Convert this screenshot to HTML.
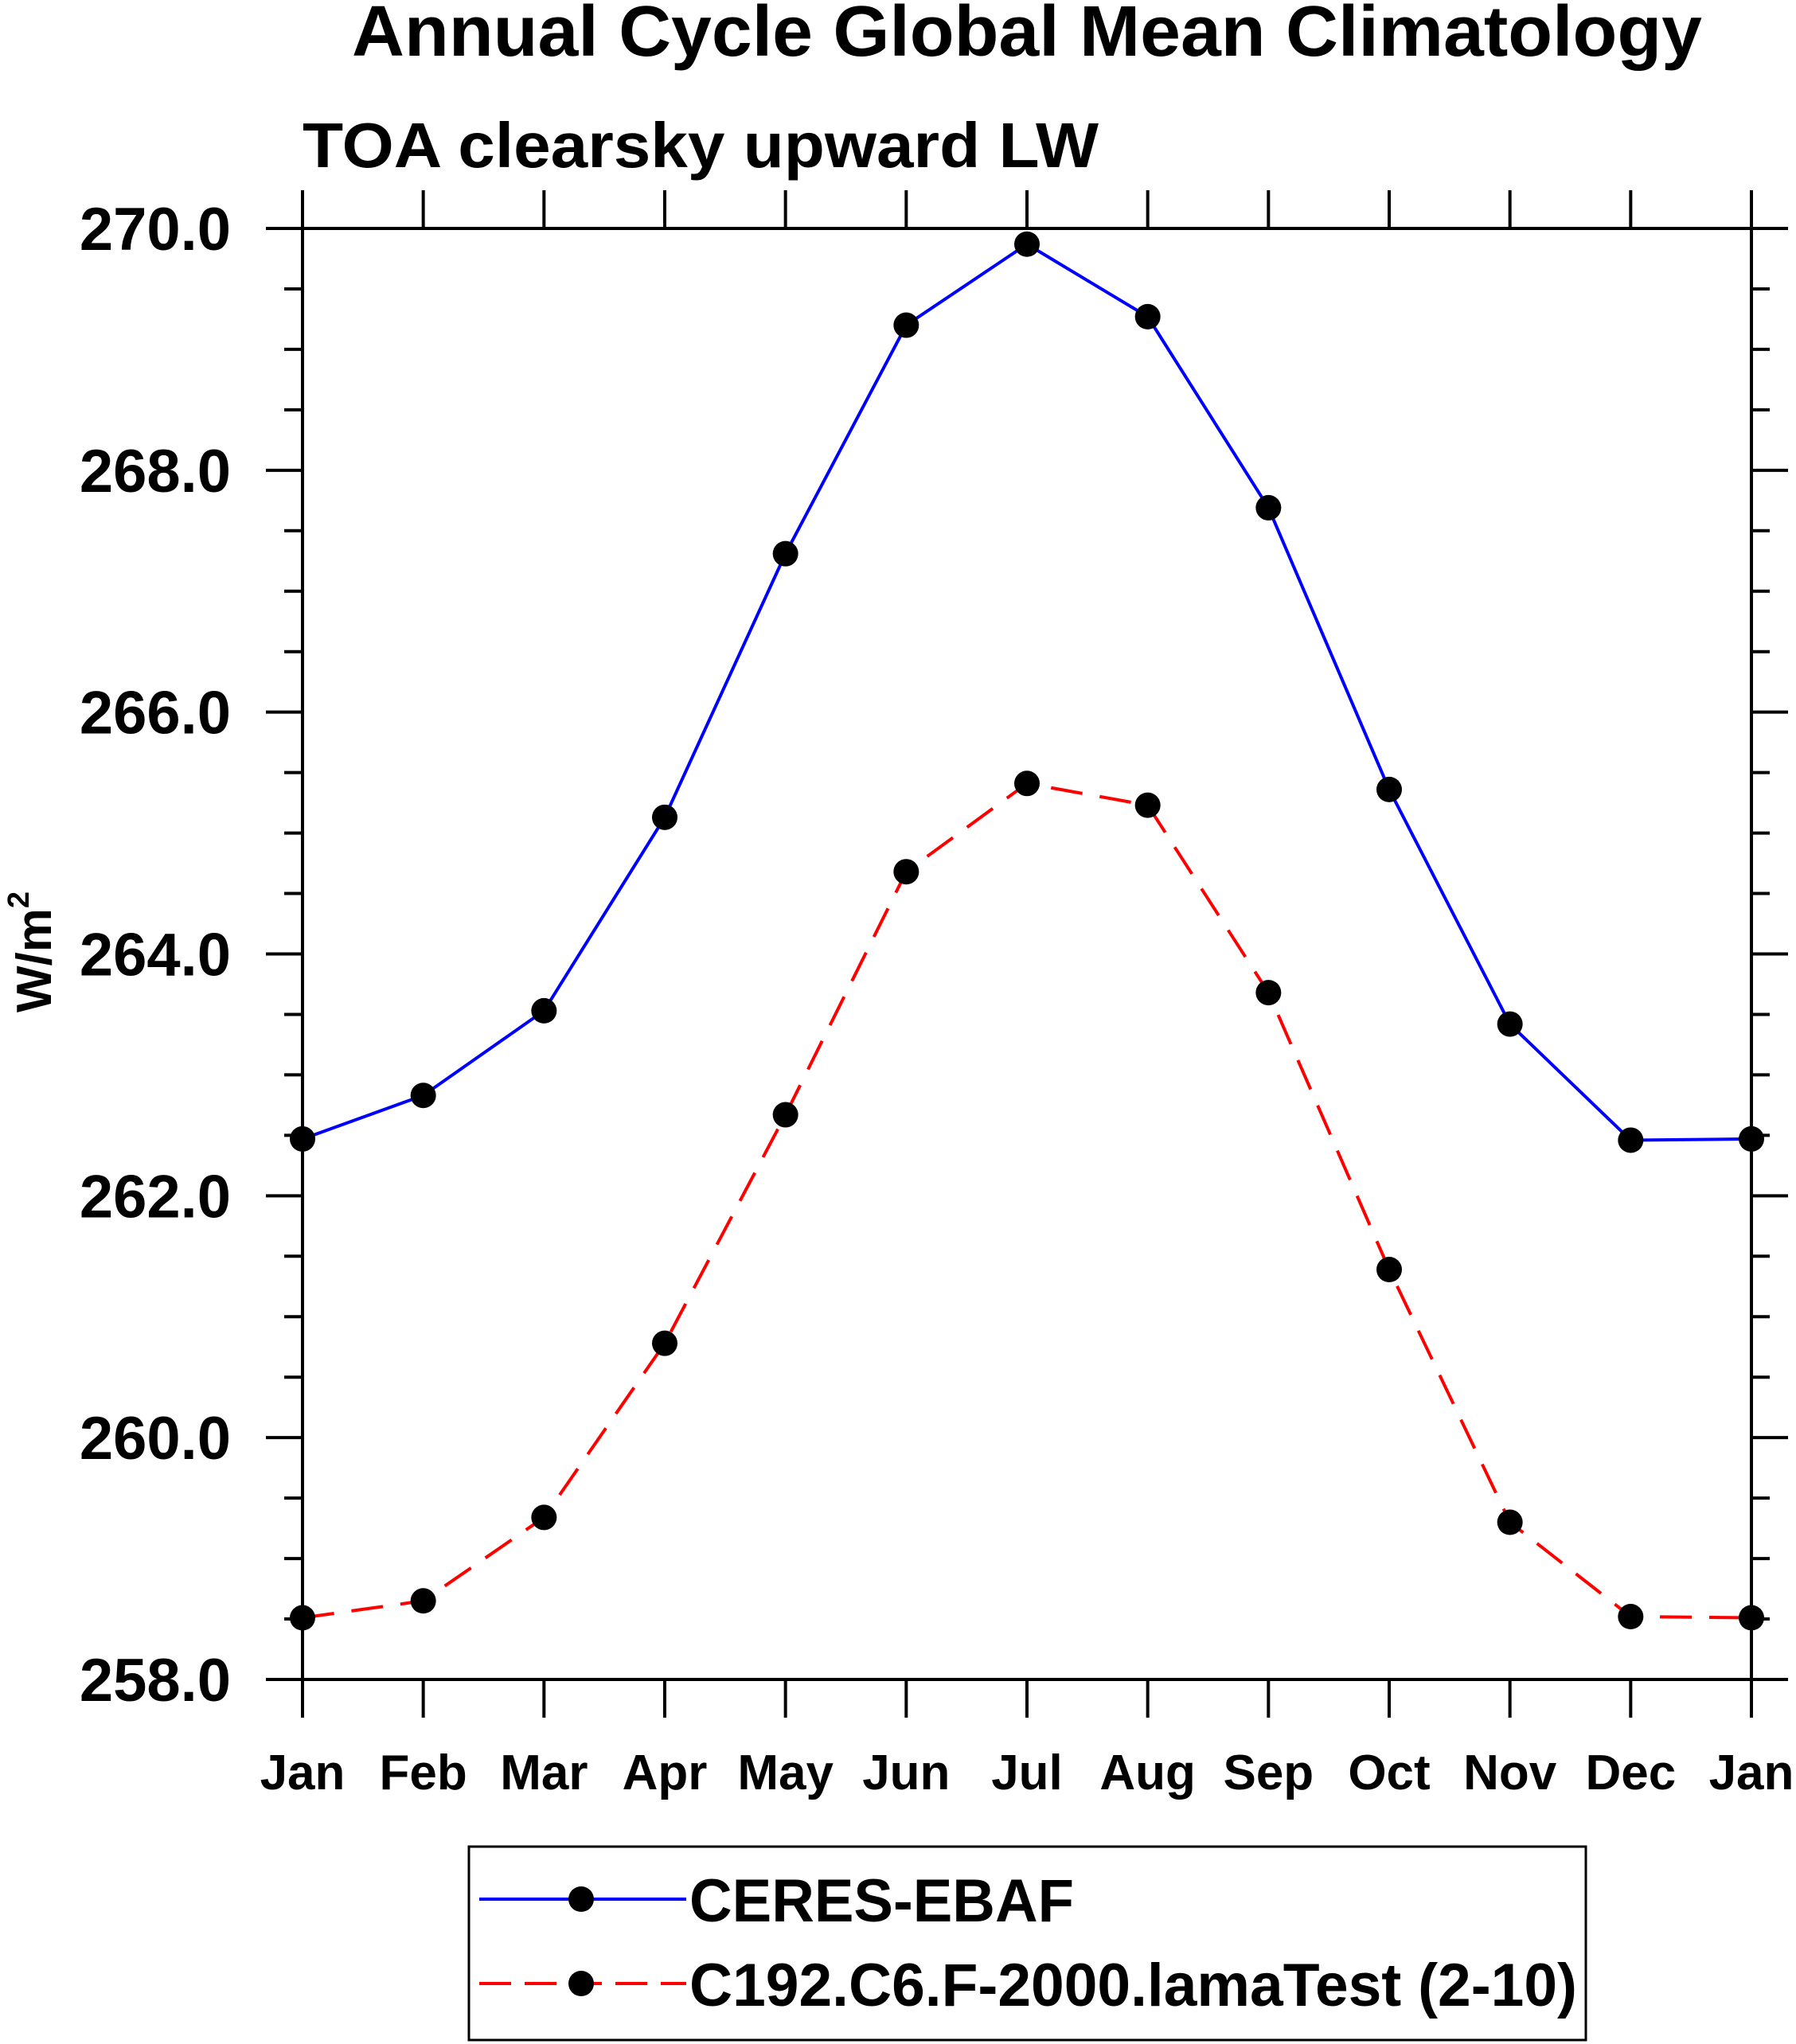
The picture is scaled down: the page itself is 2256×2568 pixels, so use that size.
<!DOCTYPE html>
<html><head><meta charset="utf-8"><style>
html,body{margin:0;padding:0;background:#fff;}
svg{display:block;}
text{font-family:"Liberation Sans",sans-serif;font-weight:bold;fill:#000;}
</style></head><body>
<svg id="chart" width="2256" height="2568" viewBox="0 0 2256 2568" xmlns="http://www.w3.org/2000/svg">
<text x="1290" y="70" font-size="90" text-anchor="middle" textLength="1696" lengthAdjust="spacingAndGlyphs">Annual Cycle Global Mean Climatology</text>
<text x="380" y="210" font-size="80" textLength="1000" lengthAdjust="spacingAndGlyphs">TOA clearsky upward LW</text>
<text transform="translate(64,1196) rotate(-90)" font-size="62" text-anchor="middle">W/m<tspan font-size="38" dy="-28">2</tspan></text>
<g id="axes"></g>
<g id="series"></g>
<rect x="589" y="2320" width="1403" height="243" fill="none" stroke="#000" stroke-width="3"/>
<line x1="602" y1="2386" x2="862" y2="2386" stroke="#00f" stroke-width="4"/>
<circle cx="730" cy="2386" r="16" fill="#000"/>
<text x="866" y="2414" font-size="76" textLength="483" lengthAdjust="spacingAndGlyphs">CERES-EBAF</text>
<line x1="602" y1="2492" x2="862" y2="2492" stroke="#f00" stroke-width="4" stroke-dasharray="40,17"/>
<circle cx="730" cy="2492" r="16" fill="#000"/>
<text x="866" y="2520" font-size="76" textLength="1115" lengthAdjust="spacingAndGlyphs">C192.C6.F-2000.lamaTest (2-10)</text>
</svg>
<script>
const months = ["Jan","Feb","Mar","Apr","May","Jun","Jul","Aug","Sep","Oct","Nov","Dec","Jan"];
const ceresValues = [262.47,262.83,263.53,265.13,267.31,269.20,269.87,269.27,267.69,265.36,263.42,262.46,262.47];
const modelValues = [258.51,258.65,259.34,260.78,262.67,264.68,265.41,265.23,263.68,261.39,259.30,258.52,258.51];
const yTickValues = [258,260,262,264,266,268,270];
const yTickLabels = ["258.0","260.0","262.0","264.0","266.0","268.0","270.0"];

const NS="http://www.w3.org/2000/svg";
const L=380,R=2200,T=287,B=2110,YMIN=258,YMAX=270;
const xs=i=>L+(R-L)*i/(months.length-1);
const ys=v=>B-(v-YMIN)/(YMAX-YMIN)*(B-T);
function mk(tag,attrs,parent){const e=document.createElementNS(NS,tag);for(const k in attrs)e.setAttribute(k,attrs[k]);parent.appendChild(e);return e;}
const axes=document.getElementById('axes'), ser=document.getElementById('series');
const frame=mk('rect',{x:L,y:T,width:R-L,height:B-T,fill:'none',stroke:'#000','stroke-width':4},axes);


for(let v=YMIN;v<=YMAX+1e-9;v+=0.5){
  const major=Math.abs(v-Math.round(v/2)*2)<1e-9;
  const len=major?46:23;
  const y=ys(v);
  const t1=mk('line',{x1:L-len,y1:y,x2:L,y2:y,stroke:'#000','stroke-width':4},axes);
  
  
  const t2=mk('line',{x1:R,y1:y,x2:R+len,y2:y,stroke:'#000','stroke-width':4},axes);
  
  
}
yTickValues.forEach((v,i)=>{
  const t=mk('text',{x:L-90,y:ys(v)+27,'font-size':76,'text-anchor':'end'},axes);
  t.textContent=yTickLabels[i];
  
  
});
months.forEach((m,i)=>{
  const x=xs(i);
  const b=mk('line',{x1:x,y1:B,x2:x,y2:B+48,stroke:'#000','stroke-width':4},axes);
  
  
  const tp=mk('line',{x1:x,y1:T-48,x2:x,y2:T,stroke:'#000','stroke-width':4},axes);
  
  
  const t=mk('text',{x:x,y:2248,'font-size':62,'text-anchor':'middle'},axes);
  t.textContent=m;
  
  
});
function drawSeries(vals,color,dash,name){
  const pts=vals.map((v,i)=>xs(i)+','+ys(v)).join(' ');
  const pl=mk('polyline',{points:pts,fill:'none',stroke:color,'stroke-width':4},ser);
  if(dash)pl.setAttribute('stroke-dasharray',dash);
  
  
  vals.forEach((v,i)=>{
    const c=mk('circle',{cx:xs(i),cy:ys(v),r:16,fill:'#000'},ser);
    
    
  });
}
drawSeries(ceresValues,'#00f',null,'ceres-ebaf');
drawSeries(modelValues,'#f00','40,22','model');
</script>
</body></html>
